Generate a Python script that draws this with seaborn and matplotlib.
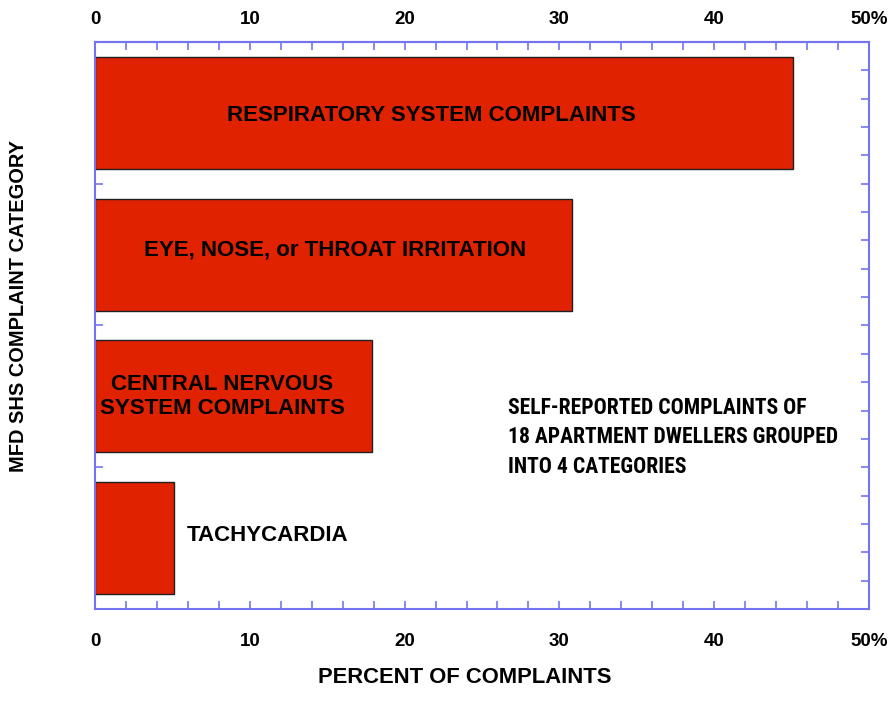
import matplotlib
matplotlib.use("Agg")
import matplotlib.pyplot as plt
from matplotlib import font_manager as fm
import seaborn as sns
import numpy as np
import pandas as pd

categories = ["RESPIRATORY SYSTEM COMPLAINTS", "EYE, NOSE, or THROAT IRRITATION",
              "CENTRAL NERVOUS\nSYSTEM COMPLAINTS", "TACHYCARDIA"]
percent = [45.1, 30.8, 17.9, 5.1]
xtick_vals = [0, 10, 20, 30, 40, 50]
xtick_labels = ["0", "10", "20", "30", "40", "50%"]
note = "SELF-REPORTED COMPLAINTS OF\n18 APARTMENT DWELLERS GROUPED\nINTO 4 CATEGORIES"

df = pd.DataFrame({"cat": categories, "pct": percent})

sns.set_style("white")
plt.rcParams["font.family"] = ["Liberation Sans", "DejaVu Sans"]
plt.rcParams["font.weight"] = "bold"
plt.rcParams["text.color"] = "black"
plt.rcParams["axes.labelcolor"] = "black"
plt.rcParams["xtick.color"] = "black"

axis_blue = "#7474f2"
bar_red = "#e02200"

# pick a condensed face for the note if one exists
names = {f.name for f in fm.fontManager.ttflist}
note_font = {"family": ["DejaVu Sans"], "fontsize": 12.8}
for n in ["Liberation Sans Narrow", "Roboto Condensed", "Open Sans Condensed"]:
    if n in names:
        note_font = {"family": [n, "DejaVu Sans"], "fontsize": 15.6}
        break

fig = plt.figure(figsize=(8.93, 7.02), dpi=100)
ax = fig.add_axes([0.1064, 0.1325, 0.8667, 0.8077])

sns.barplot(data=df, x="pct", y="cat", orient="h", color=bar_red, saturation=1,
            width=0.79, edgecolor="#202020", linewidth=1.0, ax=ax)

ax.set_xlim(0, 50)
ax.set_ylim(3.5, -0.5)

for s in ax.spines.values():
    s.set_color(axis_blue)
    s.set_linewidth(1.5)
    s.set_visible(True)

ax.set_xticks(xtick_vals)
ax.set_xticklabels(xtick_labels, fontsize=13.5, fontweight="bold")
ax.set_xticks(np.arange(0, 50.1, 2), minor=True)
ax.set_yticks(np.arange(-0.3, 3.4, 0.2))
ax.set_yticklabels([])
ax.tick_params(axis="x", which="both", direction="in", length=6, width=1.2,
               color=axis_blue, labelcolor="black", top=True, bottom=True,
               labeltop=False, labelbottom=True, pad=17)
ax.tick_params(axis="y", which="both", direction="in", length=6, width=1.2,
               color=axis_blue, left=True, right=True)

top = ax.secondary_xaxis("top")
top.set_xticks(xtick_vals)
top.set_xticklabels(xtick_labels, fontsize=13.5, fontweight="bold")
top.tick_params(axis="x", direction="in", length=0, pad=10, labelcolor="black")
top.spines["top"].set_color(axis_blue)
top.spines["top"].set_linewidth(1.5)

ax.set_xlabel("PERCENT OF COMPLAINTS", fontsize=15.8, fontweight="bold", va="top")
ax.xaxis.set_label_coords(0.478, -0.102)
ax.set_ylabel("MFD SHS COMPLAINT CATEGORY", fontsize=14.4, fontweight="bold")
ax.yaxis.set_label_coords(-0.087, 0.534)

label_pos = [(21.7, 0.02, "center"), (15.5, -0.035, "center"),
             (8.2, 0.0, "center"), (5.9, -0.02, "left")]
for (x, dy, ha), txt, yi in zip(label_pos, categories, range(4)):
    ax.text(x, yi + dy, txt, ha=ha, va="center", fontsize=16, fontweight="bold",
            linespacing=1.2, color="black")

ax.text(26.7, 2.29, note, ha="left", va="center", fontweight="bold",
        linespacing=1.45, color="black", **note_font)

fig.savefig("out.png", dpi=100)
